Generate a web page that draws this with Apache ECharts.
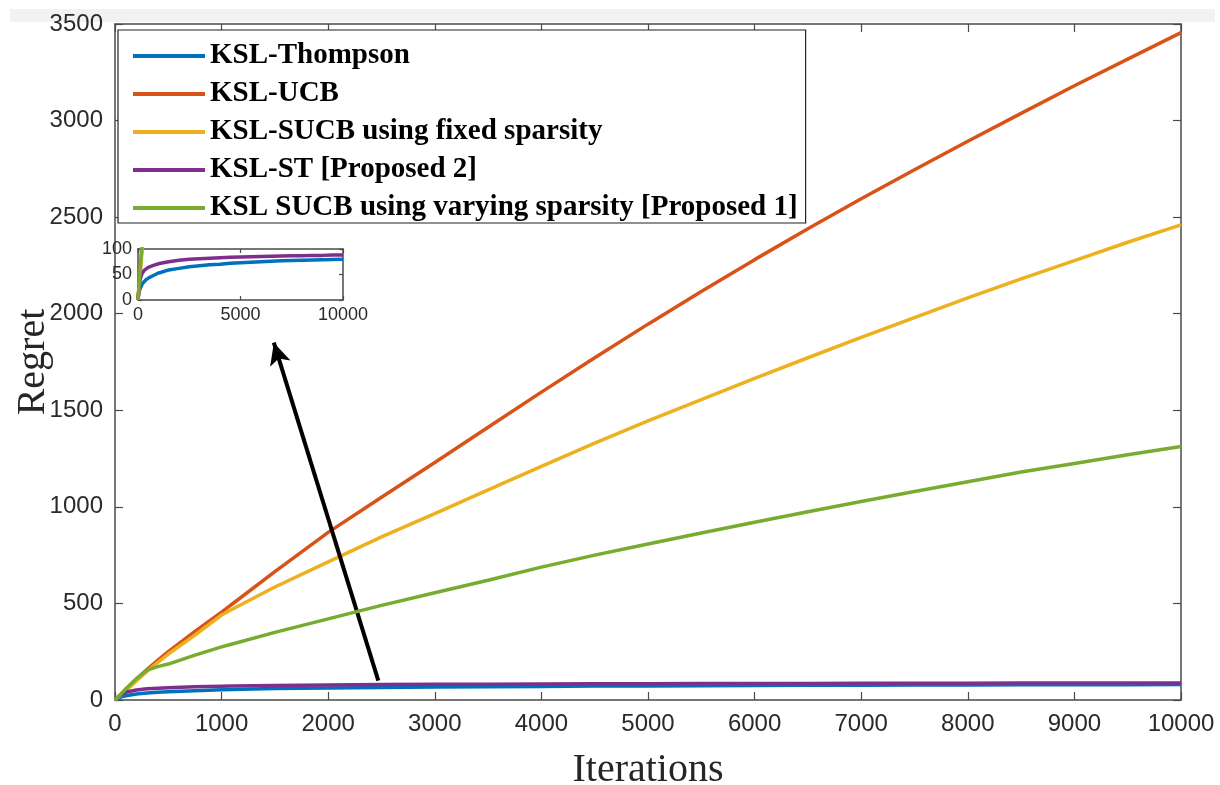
<!DOCTYPE html>
<html>
<head>
<meta charset="utf-8">
<script src="https://cdn.jsdelivr.net/npm/echarts@6/dist/echarts.min.js"></script>
<style>
html,body{margin:0;padding:0;background:#fff;}
#chart{width:1220px;height:785px;}
</style>
</head>
<body>
<div id="chart"></div>
<script>
// ---- data ----
const iterations = [0,50,100,200,300,400,500,750,1000,1100,1500,2000,2500,3000,3500,4000,4500,5000,5500,6000,6500,7000,7500,8000,8500,9000,9500,10000];
const kslThompson = [0,15,22,31,36,40,43,48,53,54,59,62,65,67,69,70,72,73,74,75,76,77,77.5,78,78.5,79,79.5,80];
const kslUCB = [0,27,55,108,158,205,250,355,455,497,665,868,1050,1230,1412,1594,1772,1946,2115,2280,2440,2595,2745,2893,3037,3180,3318,3455];
const kslSUCBFixed = [0,22,47,98,148,194,238,336,440,470,585,715,845,965,1088,1210,1330,1445,1555,1665,1772,1878,1980,2082,2180,2275,2370,2460];
const kslST = [0,25,40,52,58,61,64,68,71,72,75,78,80,81,82,83,84,84.5,85,85.5,86,86.5,87,87,87.5,87.5,88,88];
const kslSUCBVarying = [0,28,57,110,155,173,186,232,275,290,350,420,490,555,620,688,750,808,865,920,975,1028,1080,1130,1180,1225,1270,1312];
const seriesNames = ['KSL-Thompson','KSL-UCB','KSL-SUCB using fixed sparsity','KSL-ST [Proposed 2]','KSL SUCB using varying sparsity [Proposed 1]'];
const seriesColors = ['#0072BD','#D95319','#EDB120','#7E2F8E','#77AC30'];
const seriesValues = [kslThompson, kslUCB, kslSUCBFixed, kslST, kslSUCBVarying];
const mainXTicks = {min:0, max:10000, interval:1000};
const mainYTicks = {min:0, max:3500, interval:500};
const insetXTicks = {min:0, max:10000, interval:5000};
const insetYTicks = {min:0, max:100, interval:50};
const arrowStart = [2470, 100];
const arrowEnd = [1490, 1850];
const xLabel = 'Iterations';
const yLabel = 'Regret';

// ---- chart ----
const axisColor = '#4a4a4a';
const labelColor = '#2a2a2a';
function pairs(vals){ return iterations.map((x,i)=>[x, vals[i]]); }
const plain = v => String(v);

function mkAxis(base, opts){
  return Object.assign({
    type:'value',
    axisLine:{show:true, onZero:false, lineStyle:{color:axisColor, width:1.5}},
    axisTick:{show:true, inside:true, length:8, lineStyle:{color:axisColor, width:1.2}},
    splitLine:{show:false},
    axisLabel:{show:false},
  }, base, opts);
}

const mainLabel = {show:true, fontSize:24, color:labelColor, fontFamily:'Liberation Sans, Arial, sans-serif', margin:12, formatter:plain};
const insetLabel = {show:true, fontSize:18, color:labelColor, fontFamily:'Liberation Sans, Arial, sans-serif', margin:6, formatter:plain};

const series = [];
seriesNames.forEach((name,i)=>{
  const s = {
    name, type:'line', xAxisIndex:0, yAxisIndex:0,
    data: pairs(seriesValues[i]), showSymbol:false, symbol:'none',
    lineStyle:{color:seriesColors[i], width:3.5}, itemStyle:{color:seriesColors[i]},
    smooth:false, animation:false, z:2+i
  };
  if(i===seriesNames.length-1){
    s.markLine = {
      silent:true, symbol:['none','arrow'], symbolSize:[16,22], animation:false,
      lineStyle:{color:'#000', width:4, type:'solid'}, label:{show:false},
      emphasis:{disabled:true},
      data:[[{coord:arrowStart},{coord:arrowEnd}]]
    };
  }
  series.push(s);
});
seriesNames.forEach((name,i)=>{
  series.push({
    name, type:'line', xAxisIndex:2, yAxisIndex:2,
    data: pairs(seriesValues[i]), showSymbol:false, symbol:'none', clip:true,
    lineStyle:{color:seriesColors[i], width:3.5}, itemStyle:{color:seriesColors[i]},
    animation:false, z:20+i
  });
});

const option = {
  backgroundColor:'#fff',
  animation:false,
  graphic:[{type:'rect', shape:{x:10,y:9,width:1205,height:13}, style:{fill:'#f2f2f2'}, z:-10}],
  legend:{
    show:true, orient:'vertical', left:118, top:30,
    data: seriesNames.map(n=>({name:n, icon:'rect'})),
    itemWidth:72, itemHeight:4, itemGap:8,
    padding:[11,8,0,15],
    backgroundColor:'#fff', borderColor:'#222', borderWidth:1.2,
    textStyle:{fontFamily:'Liberation Serif, Times New Roman, serif', fontWeight:'bold', fontSize:29, color:'#000', lineHeight:30},
    selectedMode:false, z:50
  },
  grid:[
    {left:115, right:39, top:24, bottom:85, containLabel:false, outerBoundsMode:'none'},
    {left:138, top:249, width:205, height:51, show:true, backgroundColor:'#fff', borderWidth:0, z:10, containLabel:false, outerBoundsMode:'none'}
  ],
  xAxis:[
    mkAxis({gridIndex:0, position:'bottom'}, Object.assign({}, mainXTicks, {axisLabel:mainLabel,
      name:xLabel, nameLocation:'middle', nameGap:50, nameMoveOverlap:false,
      nameTextStyle:{fontFamily:'Liberation Serif, Times New Roman, serif', fontSize:40, color:'#262626'}})),
    mkAxis({gridIndex:0, position:'top'}, Object.assign({}, mainXTicks)),
    mkAxis({gridIndex:1, position:'bottom', z:12}, Object.assign({}, insetXTicks, {axisLabel:insetLabel})),
    mkAxis({gridIndex:1, position:'top', z:12}, Object.assign({}, insetXTicks))
  ],
  yAxis:[
    mkAxis({gridIndex:0, position:'left'}, Object.assign({}, mainYTicks, {axisLabel:mainLabel,
      name:yLabel, nameLocation:'middle', nameGap:62, nameRotate:90, nameMoveOverlap:false,
      nameTextStyle:{fontFamily:'Liberation Serif, Times New Roman, serif', fontSize:40, color:'#262626'}})),
    mkAxis({gridIndex:0, position:'right'}, Object.assign({}, mainYTicks)),
    mkAxis({gridIndex:1, position:'left', z:12}, Object.assign({}, insetYTicks, {axisLabel:insetLabel})),
    mkAxis({gridIndex:1, position:'right', z:12}, Object.assign({}, insetYTicks))
  ],
  series
};
option.xAxis[2].axisTick = Object.assign({}, option.xAxis[2].axisTick, {length:4});
option.xAxis[3].axisTick = Object.assign({}, option.xAxis[3].axisTick, {length:4});
option.yAxis[2].axisTick = Object.assign({}, option.yAxis[2].axisTick, {length:4});
option.yAxis[3].axisTick = Object.assign({}, option.yAxis[3].axisTick, {length:4});

const chart = echarts.init(document.getElementById('chart'), null, {renderer:'canvas'});
chart.setOption(option);
</script>
</body>
</html>
